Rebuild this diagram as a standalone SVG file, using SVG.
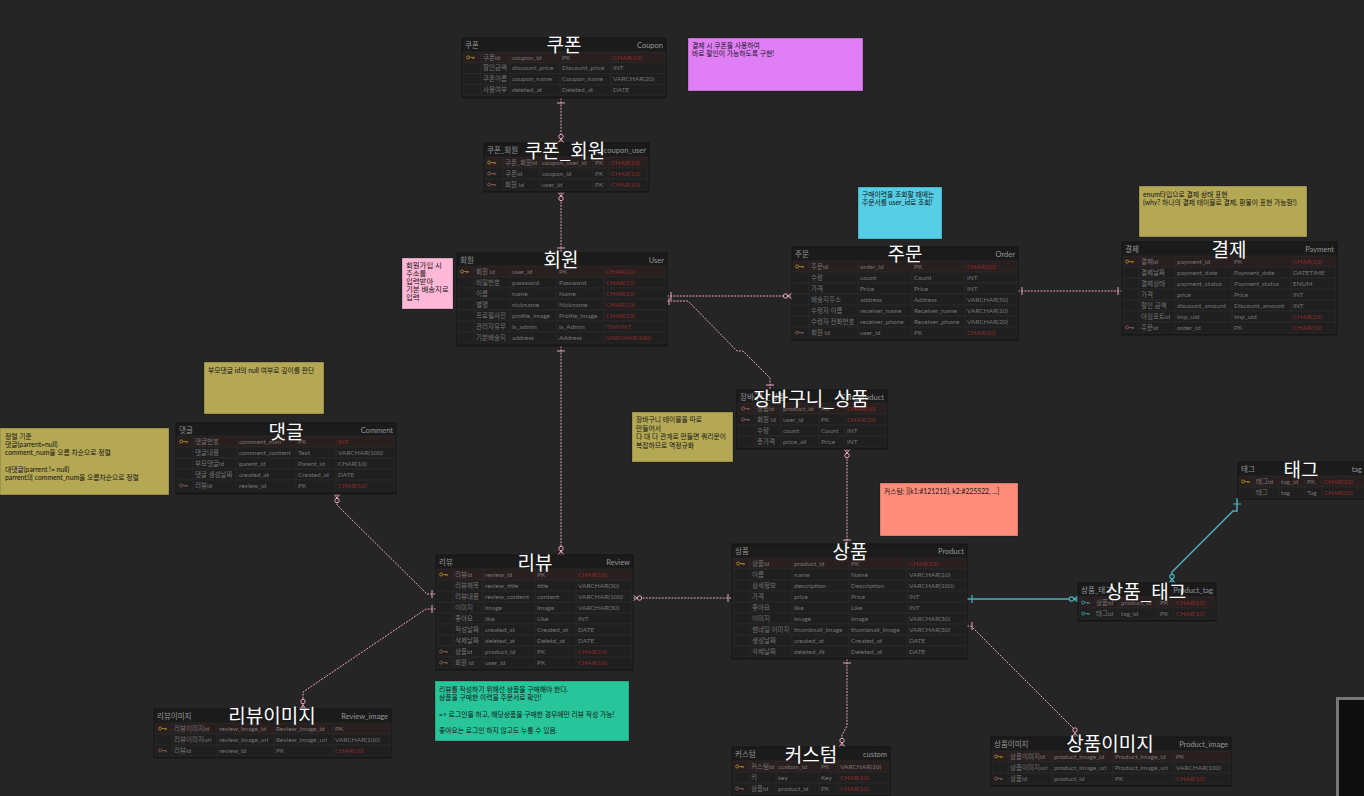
<svg xmlns="http://www.w3.org/2000/svg" width="1364" height="796" viewBox="0 0 1364 796">
<style>
text{font-family:"Lato","Noto Sans CJK KR","Noto Sans",sans-serif}
.tb{fill:#1b1b1b;stroke:#151515;stroke-width:1}
.rw{fill:#1f1f1f;stroke:#2c2c2c;stroke-width:0.7}
.pk{fill:#2a1f1f;stroke:#2c2c2c;stroke-width:0.7}
.cl{stroke:#2c2c2c;stroke-width:0.7;fill:none}
.h{font-size:7.5px;fill:#959595}
.hr{font-size:7.5px;fill:#959595;text-anchor:end}
.c{font-size:6.5px;fill:#767676}
.r{fill:#8e2b2b}
.b{font-family:"Noto Sans CJK KR","Noto Sans",sans-serif;font-size:19px;fill:#ffffff;text-anchor:middle}
.n{font-size:6.8px;fill:#151515}
.np{font-size:7.4px;fill:#151515}
.nt{stroke:rgba(0,0,0,0.25);stroke-width:1}
.cn{fill:none;stroke:#eaa5bc;stroke-width:1;stroke-dasharray:2 1.2}
.cm{fill:none;stroke:#eaa5bc;stroke-width:1}
.cc{fill:#252525;stroke:#eaa5bc;stroke-width:1}
.tl{fill:none;stroke:#4bb0ba;stroke-width:1.5}
.tm{fill:none;stroke:#4bb0ba;stroke-width:1.2}
.tc{fill:#252525;stroke:#4bb0ba;stroke-width:1.2}
</style>
<defs>
<symbol id="key" viewBox="0 0 10 6">
<circle cx="2.4" cy="3" r="1.7" fill="none" stroke="currentColor" stroke-width="1"/>
<path d="M4.1,3H9.5M7.6,3V4.9M9.2,3V4.6" fill="none" stroke="currentColor" stroke-width="0.9"/>
</symbol>
</defs>
<rect x="0" y="0" width="1364" height="796" fill="#252525"/>

<g id="connectors">
<path class="cn" d="M561,98V143"/>
<path class="cm" d="M557,103H565M558,143L561,139L564,143"/>
<circle class="cc" cx="561" cy="136.5" r="2.2"/>
<path class="cn" d="M561,192V253"/>
<path class="cm" d="M558,192L561,196L564,192M557,248H565"/>
<circle class="cc" cx="561" cy="198.5" r="2.2"/>
<path class="cn" d="M667,296H792"/>
<path class="cm" d="M671,292V300M792,293L788,296L792,299"/>
<circle class="cc" cx="785.5" cy="296" r="2.2"/>
<path class="cn" d="M667,301H688L737,351H743L770,378V390"/>
<path class="cm" d="M669,298V305M766,385H774"/>
<path class="cn" d="M561,346V555"/>
<path class="cm" d="M557,351H565M558,555L561,551L564,555"/>
<circle class="cc" cx="561" cy="548.5" r="2.2"/>
<path class="cn" d="M1018,291H1122"/>
<path class="cm" d="M1022,287V295M1118,287V295"/>
<path class="cn" d="M847,449V544"/>
<path class="cm" d="M844,449L847,453L850,449M843,540H851"/>
<circle class="cc" cx="847" cy="455.5" r="2.2"/>
<path class="cn" d="M337,494V505L427,594H436"/>
<path class="cm" d="M334,494L337,498L340,494M432,590V598"/>
<circle class="cc" cx="337" cy="500.5" r="2.2"/>
<path class="cn" d="M436,609H426L303,692V709"/>
<path class="cm" d="M432,605V613M300,709L303,705L306,709"/>
<circle class="cc" cx="303" cy="701.5" r="2.2"/>
<path class="cn" d="M633,598H732"/>
<path class="cm" d="M633,595L637,598L633,601M728,594V602"/>
<circle class="cc" cx="639.5" cy="598" r="2.2"/>
<path class="tl" d="M967,599H1078"/>
<path class="tm" d="M972,595V603M1078,596L1074,599L1078,602"/>
<circle class="tc" cx="1071.5" cy="599" r="2.2"/>
<path class="tl" d="M1237,498V511L1233,511L1172,572V583"/>
<path class="tm" d="M1233,504H1241M1169,583L1172,579L1175,583"/>
<circle class="tc" cx="1172" cy="576.5" r="2.2"/>
<path class="cn" d="M967,626H971L1075,730V737"/>
<path class="cm" d="M972,622V630M1072,737L1075,733L1078,737"/>
<circle class="cc" cx="1075" cy="730" r="2.2"/>
<path class="cn" d="M847,659V726L842,735V747"/>
<path class="cm" d="M843,663H851M839,747L842,743L845,747"/>
<circle class="cc" cx="842" cy="740.5" r="2.2"/>
</g>

<g id="note-coupon">
<rect class="nt" x="688" y="38" width="175" height="53" fill="#e07ff5"/>
<text class="n" x="692" y="47.5">결제 시 쿠폰을 사용하여</text>
<text class="n" x="692" y="56">바로 할인이 가능하도록 구현!</text>
</g>
<g id="note-user">
<rect class="nt" x="402" y="258" width="51" height="51" fill="#ffb8d6"/>
<text class="np" x="406" y="267.5">회원가입 시</text>
<text class="np" x="406" y="275.8">주소를</text>
<text class="np" x="406" y="284">입력받아</text>
<text class="np" x="406" y="292.2">기본 배송지로</text>
<text class="np" x="406" y="300.4">입력</text>
</g>
<g id="note-order">
<rect class="nt" x="858" y="187" width="84" height="52" fill="#56cee6"/>
<text class="n" x="862" y="196.5">구매이력을 조회할 때에는</text>
<text class="n" x="862" y="205">주문서를 user_id로 조회!</text>
</g>
<g id="note-payment">
<rect class="nt" x="1139" y="186" width="168" height="51" fill="#b4a854"/>
<text class="n" x="1143" y="196.5">enum타입으로 결제 상태 표현</text>
<text class="n" x="1143" y="205">(why? 하나의 결제 테이블로 결제, 환불이 표현 가능함!)</text>
</g>
<g id="note-cart">
<rect class="nt" x="632" y="412" width="101" height="50" fill="#b4a854"/>
<text class="n" x="636" y="422">장바구니 테이블을 따로</text>
<text class="n" x="636" y="430.5">만들어서</text>
<text class="n" x="636" y="439">다 대 다 관계로 만들면 쿼리문이</text>
<text class="n" x="636" y="447.5">복잡하므로 역정규화</text>
</g>
<g id="note-comment">
<rect class="nt" x="204" y="362" width="120" height="52" fill="#b4a854"/>
<text class="n" x="208" y="372.5">부모댓글 id의 null 여부로 깊이를 판단</text>
</g>
<g id="note-sort">
<rect class="nt" x="0" y="428" width="169" height="67" fill="#b4a854"/>
<text class="n" x="5" y="438.5">정렬 기준</text>
<text class="n" x="5" y="447">댓글(parrent=null)</text>
<text class="n" x="5" y="455">comment_num을 오름 차순으로 정렬</text>
<text class="n" x="5" y="471.5">대댓글(parrent != null)</text>
<text class="n" x="5" y="480">parrent의 comment_num을 오름차순으로 정렬</text>
</g>
<g id="note-custom">
<rect class="nt" x="880" y="483" width="138" height="53" fill="#ff8d7a"/>
<text class="n" x="884" y="493.5">커스텀: [{k1:#121212}, k2:#225522, ...]</text>
</g>
<g id="note-review">
<rect class="nt" x="435" y="681" width="194" height="60" fill="#28c59b"/>
<text class="n" x="439" y="691.5">리뷰를 작성하기 위해선 상품을 구매해야 한다.</text>
<text class="n" x="439" y="699.5">상품을 구매한 이력을 주문서로 확인!</text>
<text class="n" x="439" y="716.5">=&gt; 로그인을 하고, 해당상품을 구매한 경우에만 리뷰 작성 가능!</text>
<text class="n" x="439" y="733">좋아요는 로그인 하지 않고도 누를 수 있음.</text>
</g>

<g id="coupon">
<rect class="tb" x="462" y="38" width="204" height="60"/>
<text class="h" x="465" y="47.5">쿠폰</text><text class="hr" x="663" y="47.5">Coupon</text>
<rect class="pk" x="463" y="52" width="202" height="10.8"/>
<rect class="rw" x="463" y="62.8" width="202" height="10.8"/>
<rect class="rw" x="463" y="73.6" width="202" height="10.8"/>
<rect class="rw" x="463" y="84.4" width="202" height="10.8"/>
<path class="cl" d="M481,52V95.2M510,52V95.2M560,52V95.2M611,52V95.2"/>
<use href="#key" x="466" y="54.7" width="9" height="5.4" color="#a88a2c"/>
<text class="c" x="483" y="59.6">쿠폰id</text><text class="c" x="512" y="59.6">coupon_id</text><text class="c" x="562" y="59.6">PK</text><text class="c r" x="613" y="59.6">CHAR(10)</text>
<text class="c" x="483" y="70.4">할인금액</text><text class="c" x="512" y="70.4">discount_price</text><text class="c" x="562" y="70.4">Discount_price</text><text class="c" x="613" y="70.4">INT</text>
<text class="c" x="483" y="81.2">쿠폰이름</text><text class="c" x="512" y="81.2">coupon_name</text><text class="c" x="562" y="81.2">Coupon_name</text><text class="c" x="613" y="81.2">VARCHAR(20)</text>
<text class="c" x="483" y="92">사용여부</text><text class="c" x="512" y="92">deleted_at</text><text class="c" x="562" y="92">Deleted_at</text><text class="c" x="613" y="92">DATE</text>
<text class="b" x="564" y="52">쿠폰</text>
</g>

<g id="coupon_user">
<rect class="tb" x="484" y="143" width="165" height="49"/>
<text class="h" x="487" y="152.5">쿠폰_회원</text><text class="hr" x="646" y="152.5">coupon_user</text>
<rect class="pk" x="485" y="157" width="163" height="11"/>
<rect class="rw" x="485" y="168" width="163" height="11"/>
<rect class="rw" x="485" y="179" width="163" height="11"/>
<path class="cl" d="M503,157V190M540,157V190M593,157V190M609,157V190"/>
<use href="#key" x="487" y="159.8" width="9" height="5.4" color="#a88a2c"/>
<use href="#key" x="487" y="170.8" width="9" height="5.4" color="#8c5c5c"/>
<use href="#key" x="487" y="181.8" width="9" height="5.4" color="#8c5c5c"/>
<text class="c" x="505" y="164.7">쿠폰_회원id</text><text class="c" x="542" y="164.7">coupon_user_id</text><text class="c" x="595" y="164.7">PK</text><text class="c r" x="611" y="164.7">CHAR(10)</text>
<text class="c" x="505" y="175.7">쿠폰id</text><text class="c" x="542" y="175.7">coupon_id</text><text class="c" x="595" y="175.7">PK</text><text class="c r" x="611" y="175.7">CHAR(10)</text>
<text class="c" x="505" y="186.7">회원 id</text><text class="c" x="542" y="186.7">user_id</text><text class="c" x="595" y="186.7">PK</text><text class="c r" x="611" y="186.7">CHAR(10)</text>
<text class="b" x="565" y="158">쿠폰_회원</text>
</g>

<g id="user">
<rect class="tb" x="457" y="253" width="210" height="93"/>
<text class="h" x="460" y="262.5">회원</text><text class="hr" x="664" y="262.5">User</text>
<rect class="pk" x="458" y="266" width="208" height="11"/>
<rect class="rw" x="458" y="277" width="208" height="11"/>
<rect class="rw" x="458" y="288" width="208" height="11"/>
<rect class="rw" x="458" y="299" width="208" height="11"/>
<rect class="rw" x="458" y="310" width="208" height="11"/>
<rect class="rw" x="458" y="321" width="208" height="11"/>
<rect class="rw" x="458" y="332" width="208" height="11"/>
<path class="cl" d="M474,266V343M510,266V343M557,266V343M604,266V343"/>
<use href="#key" x="460" y="268.8" width="9" height="5.4" color="#a88a2c"/>
<text class="c" x="476" y="273.7">회원 id</text><text class="c" x="512" y="273.7">user_id</text><text class="c" x="559" y="273.7">PK</text><text class="c r" x="606" y="273.7">CHAR(10)</text>
<text class="c" x="476" y="284.7">비밀번호</text><text class="c" x="512" y="284.7">password</text><text class="c" x="559" y="284.7">Password</text><text class="c r" x="606" y="284.7">CHAR(15)</text>
<text class="c" x="476" y="295.7">이름</text><text class="c" x="512" y="295.7">name</text><text class="c" x="559" y="295.7">Name</text><text class="c r" x="606" y="295.7">CHAR(10)</text>
<text class="c" x="476" y="306.7">별명</text><text class="c" x="512" y="306.7">nickname</text><text class="c" x="559" y="306.7">Nickname</text><text class="c r" x="606" y="306.7">CHAR(10)</text>
<text class="c" x="476" y="317.7">프로필사진</text><text class="c" x="512" y="317.7">profile_image</text><text class="c" x="559" y="317.7">Profile_image</text><text class="c r" x="606" y="317.7">CHAR(10)</text>
<text class="c" x="476" y="328.7">관리자유무</text><text class="c" x="512" y="328.7">is_admin</text><text class="c" x="559" y="328.7">is_Admin</text><text class="c r" x="606" y="328.7">TINYINT</text>
<text class="c" x="476" y="339.7">기본배송지</text><text class="c" x="512" y="339.7">address</text><text class="c" x="559" y="339.7">Address</text><text class="c r" x="606" y="339.7">VARCHAR(100)</text>
<text class="b" x="561" y="267">회원</text>
</g>

<g id="order">
<rect class="tb" x="792" y="247" width="226" height="93"/>
<text class="h" x="795" y="256.5">주문</text><text class="hr" x="1015" y="256.5">Order</text>
<rect class="pk" x="793" y="261" width="224" height="11"/>
<rect class="rw" x="793" y="272" width="224" height="11"/>
<rect class="rw" x="793" y="283" width="224" height="11"/>
<rect class="rw" x="793" y="294" width="224" height="11"/>
<rect class="rw" x="793" y="305" width="224" height="11"/>
<rect class="rw" x="793" y="316" width="224" height="11"/>
<rect class="rw" x="793" y="327" width="224" height="11"/>
<path class="cl" d="M809,261V338M858,261V338M912,261V338M965,261V338"/>
<use href="#key" x="795" y="263.8" width="9" height="5.4" color="#a88a2c"/>
<use href="#key" x="795" y="329.8" width="9" height="5.4" color="#8c5c5c"/>
<text class="c" x="811" y="268.7">주문id</text><text class="c" x="860" y="268.7">order_id</text><text class="c" x="914" y="268.7">PK</text><text class="c r" x="967" y="268.7">CHAR(10)</text>
<text class="c" x="811" y="279.7">수량</text><text class="c" x="860" y="279.7">count</text><text class="c" x="914" y="279.7">Count</text><text class="c" x="967" y="279.7">INT</text>
<text class="c" x="811" y="290.7">가격</text><text class="c" x="860" y="290.7">Price</text><text class="c" x="914" y="290.7">Price</text><text class="c" x="967" y="290.7">INT</text>
<text class="c" x="811" y="301.7">배송지주소</text><text class="c" x="860" y="301.7">address</text><text class="c" x="914" y="301.7">Address</text><text class="c" x="967" y="301.7">VARCHAR(50)</text>
<text class="c" x="811" y="312.7">수령자 이름</text><text class="c" x="860" y="312.7">receiver_name</text><text class="c" x="914" y="312.7">Receiver_name</text><text class="c" x="967" y="312.7">VARCHAR(10)</text>
<text class="c" x="811" y="323.7">수령자 전화번호</text><text class="c" x="860" y="323.7">receiver_phone</text><text class="c" x="914" y="323.7">Receiver_phone</text><text class="c" x="967" y="323.7">VARCHAR(20)</text>
<text class="c" x="811" y="334.7">회원 id</text><text class="c" x="860" y="334.7">user_id</text><text class="c" x="914" y="334.7">PK</text><text class="c r" x="967" y="334.7">CHAR(10)</text>
<text class="b" x="905" y="261">주문</text>
</g>

<g id="payment">
<rect class="tb" x="1122" y="242" width="215" height="93"/>
<text class="h" x="1125" y="251.5">결제</text><text class="hr" x="1334" y="251.5">Payment</text>
<rect class="pk" x="1123" y="256" width="213" height="11"/>
<rect class="rw" x="1123" y="267" width="213" height="11"/>
<rect class="rw" x="1123" y="278" width="213" height="11"/>
<rect class="rw" x="1123" y="289" width="213" height="11"/>
<rect class="rw" x="1123" y="300" width="213" height="11"/>
<rect class="rw" x="1123" y="311" width="213" height="11"/>
<rect class="rw" x="1123" y="322" width="213" height="11"/>
<path class="cl" d="M1139,256V333M1175,256V333M1232,256V333M1291,256V333"/>
<use href="#key" x="1125" y="258.8" width="9" height="5.4" color="#a88a2c"/>
<use href="#key" x="1125" y="324.8" width="9" height="5.4" color="#8c5c5c"/>
<text class="c" x="1141" y="263.7">결제id</text><text class="c" x="1177" y="263.7">payment_id</text><text class="c" x="1234" y="263.7">PK</text><text class="c r" x="1293" y="263.7">CHAR(10)</text>
<text class="c" x="1141" y="274.7">결제날짜</text><text class="c" x="1177" y="274.7">payment_date</text><text class="c" x="1234" y="274.7">Payment_date</text><text class="c" x="1293" y="274.7">DATETIME</text>
<text class="c" x="1141" y="285.7">결제상태</text><text class="c" x="1177" y="285.7">payment_status</text><text class="c" x="1234" y="285.7">Payment_status</text><text class="c" x="1293" y="285.7">ENUM</text>
<text class="c" x="1141" y="296.7">가격</text><text class="c" x="1177" y="296.7">price</text><text class="c" x="1234" y="296.7">Price</text><text class="c" x="1293" y="296.7">INT</text>
<text class="c" x="1141" y="307.7">할인 금액</text><text class="c" x="1177" y="307.7">discount_amount</text><text class="c" x="1234" y="307.7">Discount_amount</text><text class="c" x="1293" y="307.7">INT</text>
<text class="c" x="1141" y="318.7">아임포트id</text><text class="c" x="1177" y="318.7">imp_uid</text><text class="c" x="1234" y="318.7">Imp_uid</text><text class="c r" x="1293" y="318.7">CHAR(10)</text>
<text class="c" x="1141" y="329.7">주문id</text><text class="c" x="1177" y="329.7">order_id</text><text class="c" x="1234" y="329.7">PK</text><text class="c r" x="1293" y="329.7">CHAR(10)</text>
<text class="b" x="1229" y="257">결제</text>
</g>

<g id="cart_product">
<rect class="tb" x="737" y="390" width="150" height="59"/>
<text class="h" x="740" y="399.5">장바구니_상품</text><text class="hr" x="884" y="399.5">Cart_product</text>
<rect class="pk" x="738" y="403" width="148" height="11"/>
<rect class="rw" x="738" y="414" width="148" height="11"/>
<rect class="rw" x="738" y="425" width="148" height="11"/>
<rect class="rw" x="738" y="436" width="148" height="11"/>
<path class="cl" d="M755,403V447M781,403V447M819,403V447M845,403V447"/>
<use href="#key" x="741" y="405.8" width="9" height="5.4" color="#8c5c5c"/>
<use href="#key" x="741" y="416.8" width="9" height="5.4" color="#8c5c5c"/>
<text class="c" x="757" y="410.7">상품id</text><text class="c" x="783" y="410.7">product_id</text><text class="c" x="821" y="410.7">PK</text><text class="c r" x="847" y="410.7">CHAR(10)</text>
<text class="c" x="757" y="421.7">회원 id</text><text class="c" x="783" y="421.7">user_id</text><text class="c" x="821" y="421.7">PK</text><text class="c r" x="847" y="421.7">CHAR(10)</text>
<text class="c" x="757" y="432.7">수량</text><text class="c" x="783" y="432.7">count</text><text class="c" x="821" y="432.7">Count</text><text class="c" x="847" y="432.7">INT</text>
<text class="c" x="757" y="443.7">총가격</text><text class="c" x="783" y="443.7">price_all</text><text class="c" x="821" y="443.7">Price</text><text class="c" x="847" y="443.7">INT</text>
<text class="b" x="811" y="406">장바구니_상품</text>
</g>

<g id="comment">
<rect class="tb" x="176" y="423" width="220" height="71"/>
<text class="h" x="179" y="432.5">댓글</text><text class="hr" x="393" y="432.5">Comment</text>
<rect class="pk" x="177" y="436" width="218" height="11"/>
<rect class="rw" x="177" y="447" width="218" height="11"/>
<rect class="rw" x="177" y="458" width="218" height="11"/>
<rect class="rw" x="177" y="469" width="218" height="11"/>
<rect class="rw" x="177" y="480" width="218" height="11"/>
<path class="cl" d="M193,436V491M237,436V491M296,436V491M336,436V491"/>
<use href="#key" x="179" y="438.8" width="9" height="5.4" color="#a88a2c"/>
<use href="#key" x="179" y="482.8" width="9" height="5.4" color="#8c5c5c"/>
<text class="c" x="195" y="443.7">댓글번호</text><text class="c" x="239" y="443.7">comment_num</text><text class="c" x="298" y="443.7">PK</text><text class="c r" x="338" y="443.7">INT</text>
<text class="c" x="195" y="454.7">댓글내용</text><text class="c" x="239" y="454.7">comment_content</text><text class="c" x="298" y="454.7">Text</text><text class="c" x="338" y="454.7">VARCHAR(100)</text>
<text class="c" x="195" y="465.7">부모댓글id</text><text class="c" x="239" y="465.7">parent_id</text><text class="c" x="298" y="465.7">Parent_id</text><text class="c" x="338" y="465.7">CHAR(10)</text>
<text class="c" x="195" y="476.7">댓글 생성날짜</text><text class="c" x="239" y="476.7">created_at</text><text class="c" x="298" y="476.7">Created_at</text><text class="c" x="338" y="476.7">DATE</text>
<text class="c" x="195" y="487.7">리뷰id</text><text class="c" x="239" y="487.7">review_id</text><text class="c" x="298" y="487.7">PK</text><text class="c r" x="338" y="487.7">CHAR(10)</text>
<text class="b" x="286" y="439">댓글</text>
</g>

<g id="review">
<rect class="tb" x="436" y="555" width="197" height="115"/>
<text class="h" x="439" y="564.5">리뷰</text><text class="hr" x="630" y="564.5">Review</text>
<rect class="pk" x="437" y="569" width="195" height="11"/>
<rect class="rw" x="437" y="580" width="195" height="11"/>
<rect class="rw" x="437" y="591" width="195" height="11"/>
<rect class="rw" x="437" y="602" width="195" height="11"/>
<rect class="rw" x="437" y="613" width="195" height="11"/>
<rect class="rw" x="437" y="624" width="195" height="11"/>
<rect class="rw" x="437" y="635" width="195" height="11"/>
<rect class="rw" x="437" y="646" width="195" height="11"/>
<rect class="rw" x="437" y="657" width="195" height="11"/>
<path class="cl" d="M453,569V668M483,569V668M535,569V668M576,569V668"/>
<use href="#key" x="439" y="571.8" width="9" height="5.4" color="#a88a2c"/>
<use href="#key" x="439" y="648.8" width="9" height="5.4" color="#8c5c5c"/>
<use href="#key" x="439" y="659.8" width="9" height="5.4" color="#8c5c5c"/>
<text class="c" x="455" y="576.7">리뷰id</text><text class="c" x="485" y="576.7">review_id</text><text class="c" x="537" y="576.7">PK</text><text class="c r" x="578" y="576.7">CHAR(10)</text>
<text class="c" x="455" y="587.7">리뷰제목</text><text class="c" x="485" y="587.7">review_title</text><text class="c" x="537" y="587.7">title</text><text class="c" x="578" y="587.7">VARCHAR(30)</text>
<text class="c" x="455" y="598.7">리뷰내용</text><text class="c" x="485" y="598.7">review_content</text><text class="c" x="537" y="598.7">content</text><text class="c" x="578" y="598.7">VARCHAR(100)</text>
<text class="c" x="455" y="609.7">이미지</text><text class="c" x="485" y="609.7">image</text><text class="c" x="537" y="609.7">Image</text><text class="c" x="578" y="609.7">VARCHAR(30)</text>
<text class="c" x="455" y="620.7">좋아요</text><text class="c" x="485" y="620.7">like</text><text class="c" x="537" y="620.7">Like</text><text class="c" x="578" y="620.7">INT</text>
<text class="c" x="455" y="631.7">작성날짜</text><text class="c" x="485" y="631.7">created_at</text><text class="c" x="537" y="631.7">Created_at</text><text class="c" x="578" y="631.7">DATE</text>
<text class="c" x="455" y="642.7">삭제날짜</text><text class="c" x="485" y="642.7">deleted_at</text><text class="c" x="537" y="642.7">Deletd_at</text><text class="c" x="578" y="642.7">DATE</text>
<text class="c" x="455" y="653.7">상품id</text><text class="c" x="485" y="653.7">product_id</text><text class="c" x="537" y="653.7">PK</text><text class="c r" x="578" y="653.7">CHAR(10)</text>
<text class="c" x="455" y="664.7">회원 id</text><text class="c" x="485" y="664.7">user_id</text><text class="c" x="537" y="664.7">PK</text><text class="c r" x="578" y="664.7">CHAR(10)</text>
<text class="b" x="535" y="570">리뷰</text>
</g>

<g id="product">
<rect class="tb" x="732" y="544" width="235" height="115"/>
<text class="h" x="735" y="553.5">상품</text><text class="hr" x="964" y="553.5">Product</text>
<rect class="pk" x="733" y="558" width="233" height="11"/>
<rect class="rw" x="733" y="569" width="233" height="11"/>
<rect class="rw" x="733" y="580" width="233" height="11"/>
<rect class="rw" x="733" y="591" width="233" height="11"/>
<rect class="rw" x="733" y="602" width="233" height="11"/>
<rect class="rw" x="733" y="613" width="233" height="11"/>
<rect class="rw" x="733" y="624" width="233" height="11"/>
<rect class="rw" x="733" y="635" width="233" height="11"/>
<rect class="rw" x="733" y="646" width="233" height="11"/>
<path class="cl" d="M750,558V657M792,558V657M849,558V657M907,558V657"/>
<use href="#key" x="736" y="560.8" width="9" height="5.4" color="#a88a2c"/>
<text class="c" x="752" y="565.7">상품id</text><text class="c" x="794" y="565.7">product_id</text><text class="c" x="851" y="565.7">PK</text><text class="c r" x="909" y="565.7">CHAR(10)</text>
<text class="c" x="752" y="576.7">이름</text><text class="c" x="794" y="576.7">name</text><text class="c" x="851" y="576.7">Name</text><text class="c" x="909" y="576.7">VARCHAR(10)</text>
<text class="c" x="752" y="587.7">상세정보</text><text class="c" x="794" y="587.7">description</text><text class="c" x="851" y="587.7">Description</text><text class="c" x="909" y="587.7">VARCHAR(100)</text>
<text class="c" x="752" y="598.7">가격</text><text class="c" x="794" y="598.7">price</text><text class="c" x="851" y="598.7">Price</text><text class="c" x="909" y="598.7">INT</text>
<text class="c" x="752" y="609.7">좋아요</text><text class="c" x="794" y="609.7">like</text><text class="c" x="851" y="609.7">Like</text><text class="c" x="909" y="609.7">INT</text>
<text class="c" x="752" y="620.7">이미지</text><text class="c" x="794" y="620.7">image</text><text class="c" x="851" y="620.7">Image</text><text class="c" x="909" y="620.7">VARCHAR(30)</text>
<text class="c" x="752" y="631.7">썸네일 이미지</text><text class="c" x="794" y="631.7">thumbnail_image</text><text class="c" x="851" y="631.7">thumbnail_Image</text><text class="c" x="909" y="631.7">VARCHAR(30)</text>
<text class="c" x="752" y="642.7">생성날짜</text><text class="c" x="794" y="642.7">created_at</text><text class="c" x="851" y="642.7">Created_at</text><text class="c" x="909" y="642.7">DATE</text>
<text class="c" x="752" y="653.7">삭제날짜</text><text class="c" x="794" y="653.7">deleted_At</text><text class="c" x="851" y="653.7">Deleted_at</text><text class="c" x="909" y="653.7">DATE</text>
<text class="b" x="850" y="559">상품</text>
</g>

<g id="tag">
<rect class="tb" x="1238" y="462" width="132" height="37"/>
<text class="h" x="1241" y="471.5">태그</text><text class="hr" x="1362" y="471.5">tag</text>
<rect class="pk" x="1239" y="476" width="130" height="11"/>
<rect class="rw" x="1239" y="487" width="130" height="11"/>
<path class="cl" d="M1254,476V498M1279,476V498M1305,476V498M1322,476V498"/>
<use href="#key" x="1241" y="478.8" width="9" height="5.4" color="#a88a2c"/>
<text class="c" x="1256" y="483.7">태그id</text><text class="c" x="1281" y="483.7">tag_id</text><text class="c" x="1307" y="483.7">PK</text><text class="c r" x="1324" y="483.7">CHAR(10)</text>
<text class="c" x="1256" y="494.7">태그</text><text class="c" x="1281" y="494.7">tag</text><text class="c" x="1307" y="494.7">Tag</text><text class="c r" x="1324" y="494.7">CHAR(30)</text>
<text class="b" x="1301" y="477">태그</text>
</g>

<g id="product_tag">
<rect class="tb" x="1078" y="583" width="138" height="38"/>
<text class="h" x="1081" y="592.5">상품_태그</text><text class="hr" x="1213" y="592.5">Product_tag</text>
<rect class="pk" x="1079" y="597" width="136" height="11"/>
<rect class="rw" x="1079" y="608" width="136" height="11"/>
<path class="cl" d="M1094,597V619M1119,597V619M1158,597V619M1174,597V619"/>
<use href="#key" x="1081" y="599.8" width="9" height="5.4" color="#3a9aa3"/>
<use href="#key" x="1081" y="610.8" width="9" height="5.4" color="#3a9aa3"/>
<text class="c" x="1096" y="604.7">상품id</text><text class="c" x="1121" y="604.7">product_id</text><text class="c" x="1160" y="604.7">PK</text><text class="c r" x="1176" y="604.7">CHAR(10)</text>
<text class="c" x="1096" y="615.7">태그id</text><text class="c" x="1121" y="615.7">tag_id</text><text class="c" x="1160" y="615.7">PK</text><text class="c r" x="1176" y="615.7">CHAR(10)</text>
<text class="b" x="1146" y="599">상품_태그</text>
</g>

<g id="review_image">
<rect class="tb" x="154" y="709" width="237" height="49"/>
<text class="h" x="157" y="718.5">리뷰이미지</text><text class="hr" x="388" y="718.5">Review_image</text>
<rect class="pk" x="155" y="723" width="235" height="11"/>
<rect class="rw" x="155" y="734" width="235" height="11"/>
<rect class="rw" x="155" y="745" width="235" height="11"/>
<path class="cl" d="M172,723V756M217,723V756M274,723V756M333,723V756"/>
<use href="#key" x="158" y="725.8" width="9" height="5.4" color="#a88a2c"/>
<use href="#key" x="158" y="747.8" width="9" height="5.4" color="#8c5c5c"/>
<text class="c" x="174" y="730.7">리뷰이미지id</text><text class="c" x="219" y="730.7">review_image_id</text><text class="c" x="276" y="730.7">Review_image_id</text><text class="c" x="335" y="730.7">PK</text>
<text class="c" x="174" y="741.7">리뷰이미지url</text><text class="c" x="219" y="741.7">review_image_url</text><text class="c" x="276" y="741.7">Review_image_url</text><text class="c" x="335" y="741.7">VARCHAR(100)</text>
<text class="c" x="174" y="752.7">리뷰id</text><text class="c" x="219" y="752.7">review_id</text><text class="c" x="276" y="752.7">PK</text><text class="c r" x="335" y="752.7">CHAR(10)</text>
<text class="b" x="272" y="723">리뷰이미지</text>
</g>

<g id="custom">
<rect class="tb" x="732" y="747" width="158" height="50"/>
<text class="h" x="735" y="756.5">커스텀</text><text class="hr" x="887" y="756.5">custom</text>
<rect class="pk" x="733" y="761" width="156" height="11"/>
<rect class="rw" x="733" y="772" width="156" height="11"/>
<rect class="rw" x="733" y="783" width="156" height="11"/>
<path class="cl" d="M749,761V794M776,761V794M819,761V794M838,761V794"/>
<use href="#key" x="735" y="763.8" width="9" height="5.4" color="#a88a2c"/>
<use href="#key" x="735" y="785.8" width="9" height="5.4" color="#8c5c5c"/>
<text class="c" x="751" y="768.7">커스텀id</text><text class="c" x="778" y="768.7">custom_id</text><text class="c" x="821" y="768.7">PK</text><text class="c" x="840" y="768.7">VARCHAR(10)</text>
<text class="c" x="751" y="779.7">키</text><text class="c" x="778" y="779.7">key</text><text class="c" x="821" y="779.7">Key</text><text class="c r" x="840" y="779.7">CHAR(10)</text>
<text class="c" x="751" y="790.7">상품id</text><text class="c" x="778" y="790.7">product_id</text><text class="c" x="821" y="790.7">PK</text><text class="c r" x="840" y="790.7">CHAR(10)</text>
<text class="b" x="811" y="762">커스텀</text>
</g>

<g id="product_image">
<rect class="tb" x="991" y="737" width="240" height="49"/>
<text class="h" x="994" y="746.5">상품이미지</text><text class="hr" x="1228" y="746.5">Product_image</text>
<rect class="pk" x="992" y="751" width="238" height="11"/>
<rect class="rw" x="992" y="762" width="238" height="11"/>
<rect class="rw" x="992" y="773" width="238" height="11"/>
<path class="cl" d="M1008,751V784M1052,751V784M1113,751V784M1174,751V784"/>
<use href="#key" x="994" y="753.8" width="9" height="5.4" color="#a88a2c"/>
<use href="#key" x="994" y="775.8" width="9" height="5.4" color="#8c5c5c"/>
<text class="c" x="1010" y="758.7">상품이미지id</text><text class="c" x="1054" y="758.7">product_image_id</text><text class="c" x="1115" y="758.7">Product_image_id</text><text class="c" x="1176" y="758.7">PK</text>
<text class="c" x="1010" y="769.7">상품이미지url</text><text class="c" x="1054" y="769.7">product_image_url</text><text class="c" x="1115" y="769.7">Product_image_url</text><text class="c" x="1176" y="769.7">VARCHAR(100)</text>
<text class="c" x="1010" y="780.7">상품id</text><text class="c" x="1054" y="780.7">product_id</text><text class="c" x="1115" y="780.7">PK</text><text class="c r" x="1176" y="780.7">CHAR(10)</text>
<text class="b" x="1110" y="751">상품이미지</text>
</g>

<rect x="1337.5" y="698.5" width="30" height="100" fill="#0e0e0e" stroke="#777777" stroke-width="3"/>
</svg>
